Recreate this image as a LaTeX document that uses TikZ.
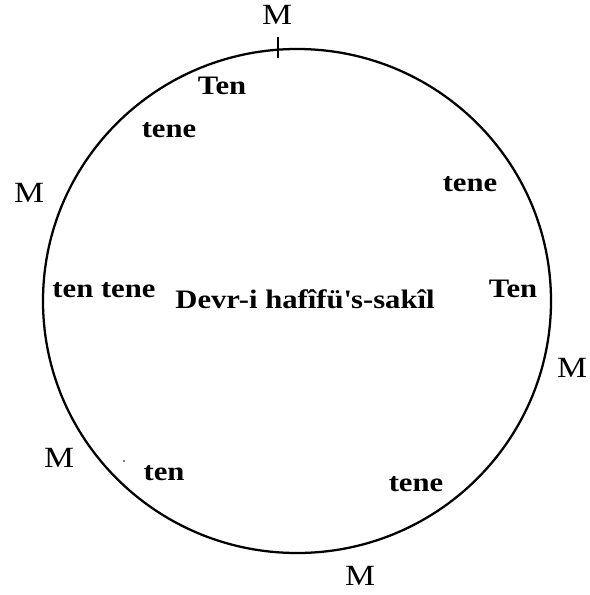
\documentclass[tikz,border=0pt]{standalone}
\usepackage{fontspec}
\setmainfont{Liberation Serif}[FakeStretch=1.15]
\begin{document}
\begin{tikzpicture}[x=0.75pt,y=-0.75pt,
  lbl/.style={inner sep=0pt,anchor=base,font=\fontsize{20pt}{24pt}\selectfont\bfseries},
  mlbl/.style={inner sep=0pt,anchor=base,font=\fontsize{22pt}{26pt}\selectfont},
  ring/.style={line width=1.7pt,draw=black}]
\useasboundingbox (0,0) rectangle (589,595);
\draw[ring] (297,301) ellipse [x radius=254, y radius=252];
\coordinate (tA) at (278,37);
\coordinate (tB) at (278,58);
\draw[line width=1.2pt] (tA) -- (tB);
\node[mlbl] (m1) at (277,25) {M};
\node[mlbl] (m2) at (29,203) {M};
\node[mlbl] (m3) at (572,377) {M};
\node[mlbl] (m4) at (59,467) {M};
\node[mlbl] (m5) at (360,585) {M};
\node[lbl] (l1) at (222,95) {Ten};
\node[lbl] (l2) at (169,138) {tene};
\node[lbl] (l3) at (470,192) {tene};
\node[lbl] (l4) at (104,297) {ten tene};
\node[lbl] (l5) at (513,297) {Ten};
\node[lbl] (c) at (305,308) {Devr-i hafîfü\textquotesingle s-sakîl};
\node[lbl] (l6) at (164,480) {ten};
\node[lbl] (l7) at (416,491) {tene};
\fill (124,461) circle[radius=0.8];
\end{tikzpicture}
\end{document}
